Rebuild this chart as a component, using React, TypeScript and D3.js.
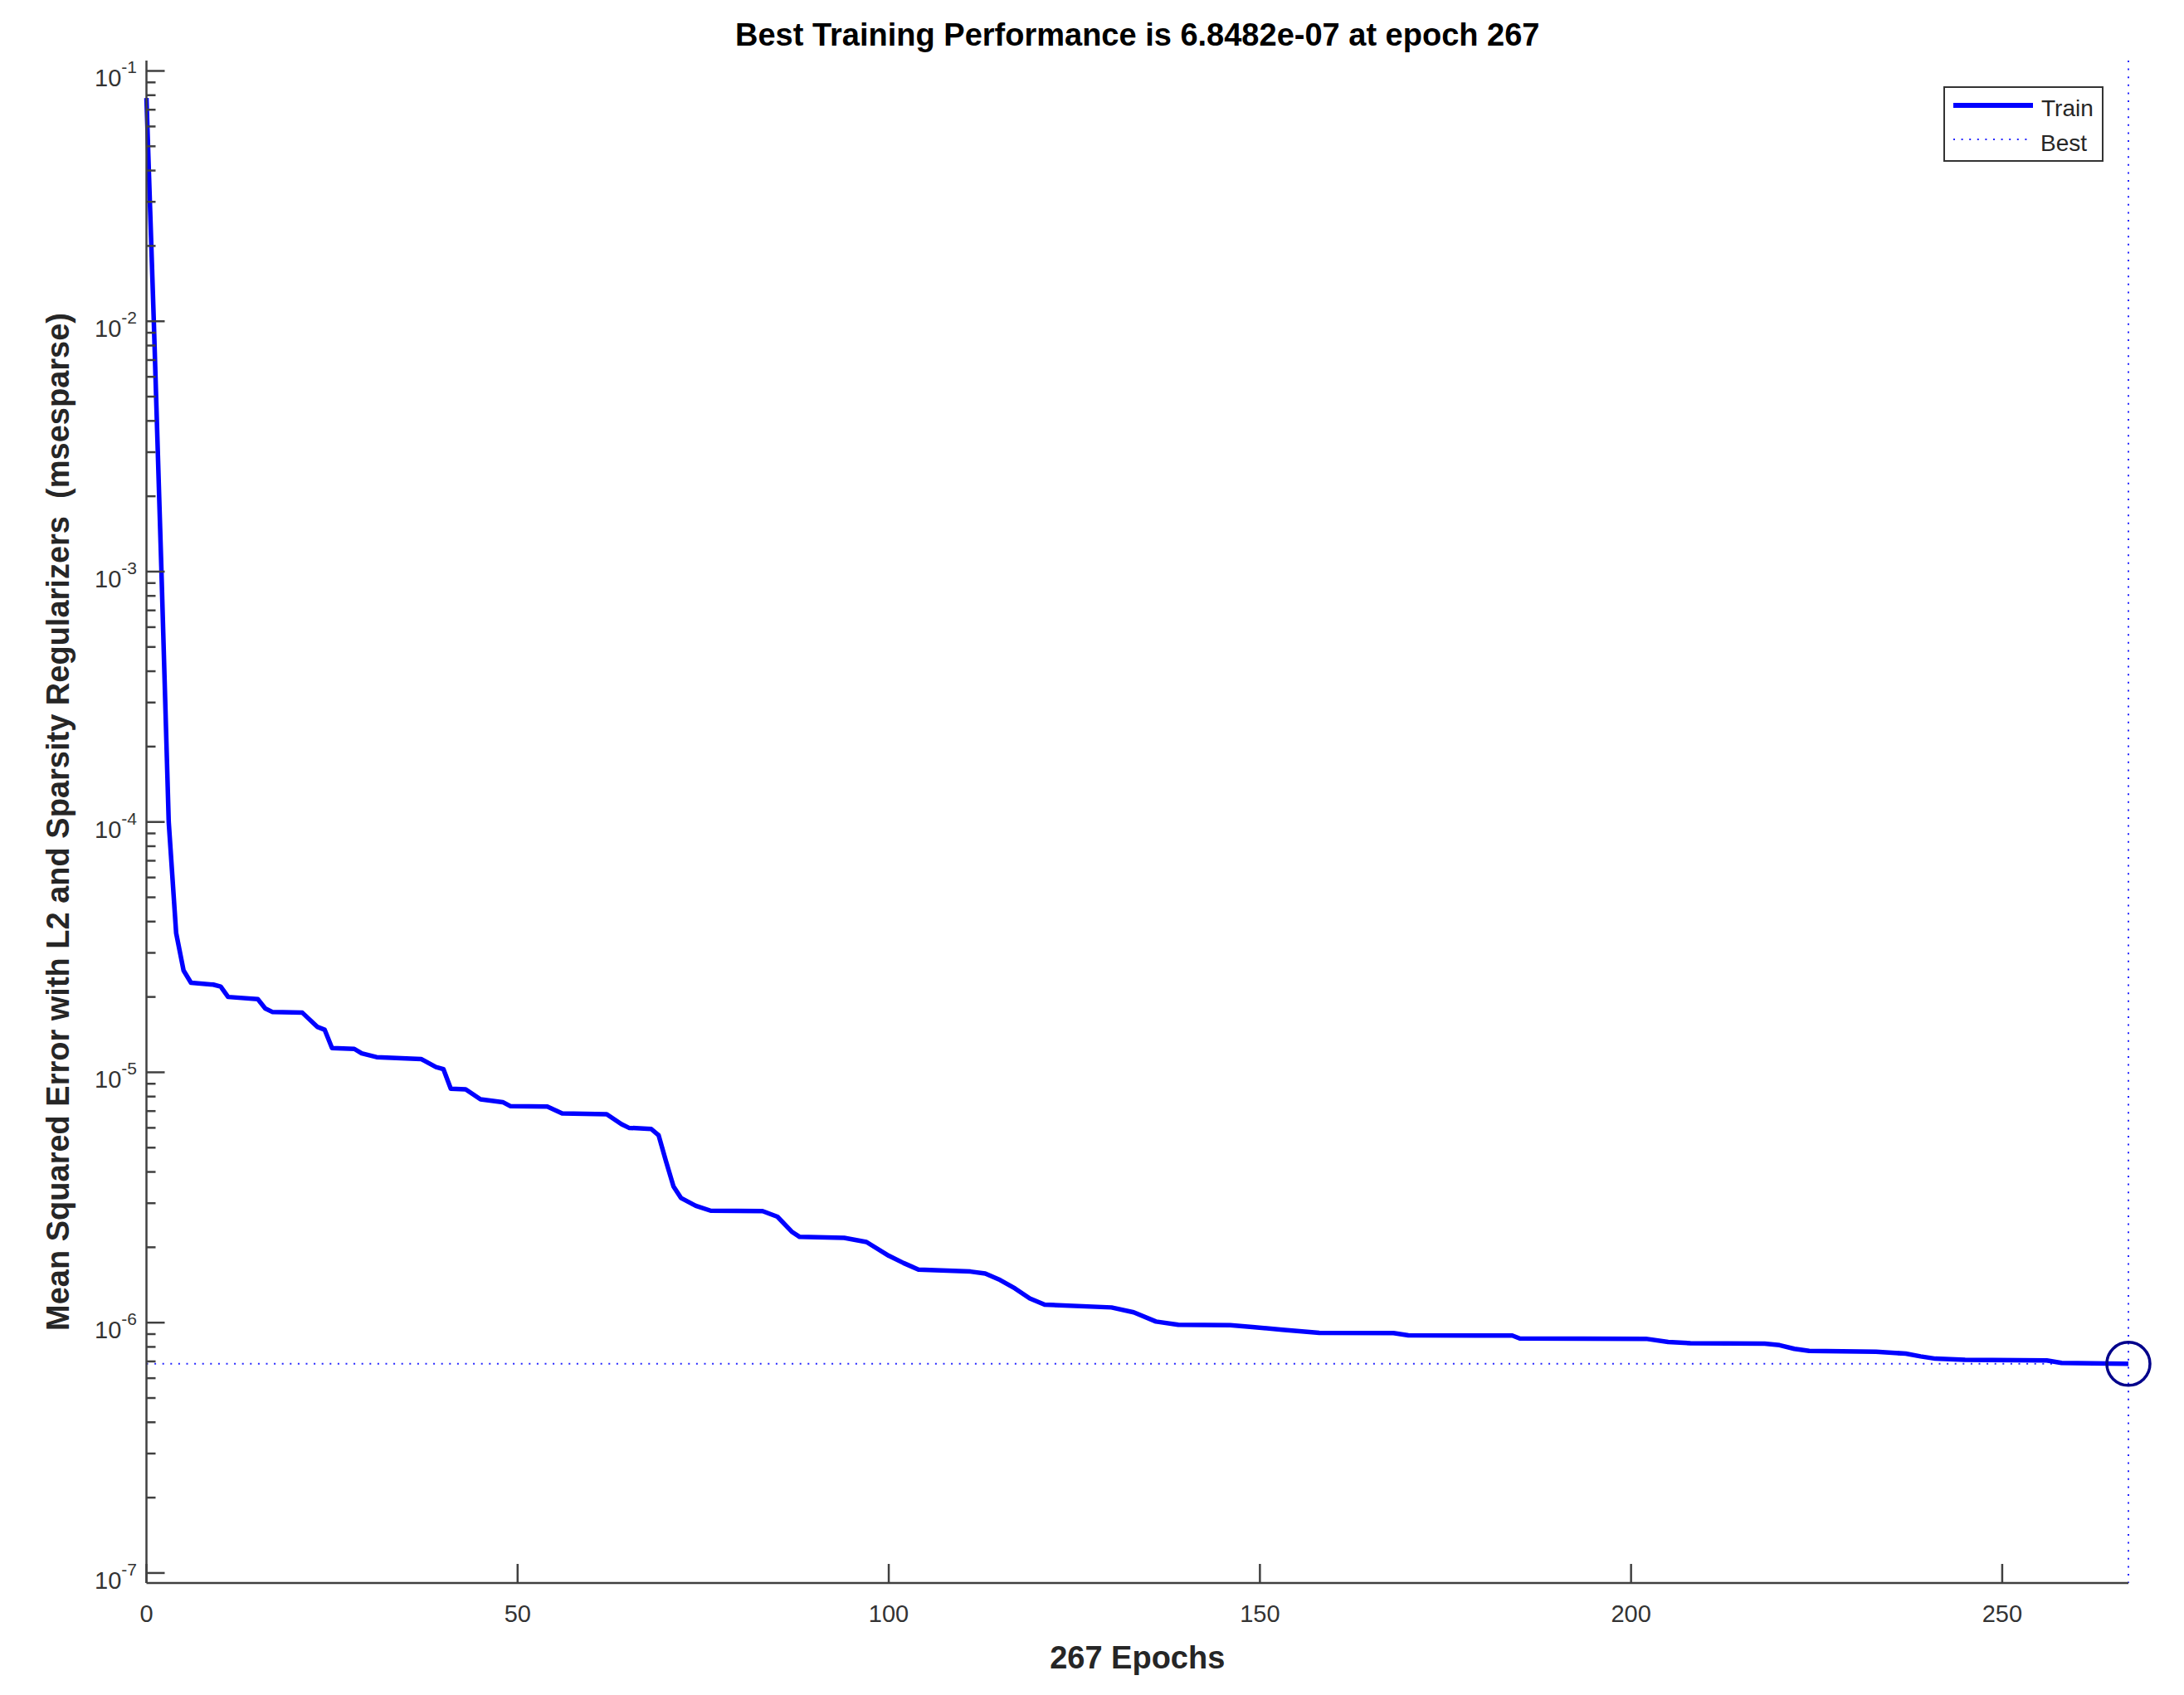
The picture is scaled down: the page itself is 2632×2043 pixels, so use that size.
import React from "react";
import * as d3 from "d3";

// ---- data ----
const epochs: number[] = [
  0, 1, 2, 3, 4, 5, 6, 9, 10, 11, 15, 16, 17, 21, 23, 24, 25, 28, 29, 31, 37, 39, 40, 41, 43, 45, 48, 49, 54, 56,
  62, 64, 65, 68, 69, 70, 71, 72, 74, 76, 83, 85, 87, 88, 94, 97, 100, 102, 104, 111, 113, 115, 117, 119, 121, 130,
  133, 136, 139, 146, 149, 153, 158, 168, 170, 184, 185, 202, 205, 208, 218, 220, 222, 224, 233, 237, 239, 241, 245,
  256, 258, 267,
];
const trainPerf: number[] = [
  0.078, 0.0098, 0.00105, 1.0e-4, 3.6e-5, 2.55e-5, 2.28e-5, 2.24e-5, 2.2e-5, 2.0e-5, 1.96e-5, 1.8e-5, 1.74e-5,
  1.73e-5, 1.52e-5, 1.48e-5, 1.25e-5, 1.24e-5, 1.19e-5, 1.15e-5, 1.13e-5, 1.05e-5, 1.03e-5, 8.6e-6, 8.55e-6, 7.8e-6,
  7.6e-6, 7.33e-6, 7.3e-6, 6.85e-6, 6.8e-6, 6.2e-6, 6.0e-6, 5.94e-6, 5.6e-6, 4.4e-6, 3.5e-6, 3.15e-6, 2.93e-6,
  2.8e-6, 2.79e-6, 2.65e-6, 2.3e-6, 2.2e-6, 2.18e-6, 2.1e-6, 1.85e-6, 1.73e-6, 1.63e-6, 1.6e-6, 1.57e-6, 1.48e-6,
  1.37e-6, 1.25e-6, 1.18e-6, 1.15e-6, 1.1e-6, 1.01e-6, 9.8e-7, 9.77e-7, 9.6e-7, 9.37e-7, 9.1e-7, 9.08e-7, 8.9e-7,
  8.88e-7, 8.65e-7, 8.62e-7, 8.37e-7, 8.28e-7, 8.24e-7, 8.13e-7, 7.86e-7, 7.71e-7, 7.65e-7, 7.52e-7, 7.33e-7,
  7.18e-7, 7.1e-7, 7.06e-7, 6.9e-7, 6.8482e-7,
];
const bestEpoch = 267;
const bestPerf = 6.8482e-7;
const xTicks: number[] = [0, 50, 100, 150, 200, 250];
const yDecades: number[] = [-7, -6, -5, -4, -3, -2, -1];
const titleText = "Best Training Performance is 6.8482e-07 at epoch 267";
const xLabel = "267 Epochs";
const yLabel = "Mean Squared Error with L2 and Sparsity Regularizers\u00a0\u00a0(msesparse)";
const legendItems: string[] = ["Train", "Best"];

// ---- layout ----
const W = 2632;
const H = 2043;
const L = 176.5;
const R = 2565;
const T = 73;
const B = 1908;
const FONT = "'Liberation Sans', Arial, Helvetica, sans-serif";
const BLUE = "#0000ff";

export default function App() {
  const x = d3.scaleLinear().domain([0, bestEpoch]).range([L, R]);
  const y = d3.scaleLog().domain([Math.pow(10, -7.04), Math.pow(10, -0.9586)]).range([B, T]);
  const pts = epochs.map((e, i) => [e, trainPerf[i]] as [number, number]);
  const line = d3
    .line<[number, number]>()
    .x((d) => x(d[0]))
    .y((d) => y(d[1]));

  const minor: number[] = [];
  yDecades.forEach((dd) => {
    for (let k = 2; k <= 9; k++) {
      const v = k * Math.pow(10, dd);
      const [lo, hi] = y.domain();
      if (v > lo && v < hi) minor.push(v);
    }
  });

  const by = y(bestPerf);
  const bx = x(bestEpoch);

  return (
    <div style={{ position: "absolute", left: 0, top: 0 }}>
      <svg width={W} height={H} xmlns="http://www.w3.org/2000/svg" style={{ display: "block", background: "#fff" }}>
        <rect x={0} y={0} width={W} height={H} fill="#fff" />
        {/* title */}
        <text x={(L + R) / 2} y={55} textAnchor="middle" fontFamily={FONT} fontWeight="bold" fontSize={38} fill="#000">
          {titleText}
        </text>

        {/* best lines */}
        <line x1={L} x2={R} y1={by} y2={by} stroke={BLUE} strokeWidth={2} strokeDasharray="2 7.6" opacity={0.85} />
        <line x1={bx} x2={bx} y1={T} y2={B} stroke={BLUE} strokeWidth={2} strokeDasharray="2 7.6" opacity={0.85} />

        {/* train line */}
        <path d={line(pts) || ""} fill="none" stroke={BLUE} strokeWidth={5.5} strokeLinejoin="round" />

        {/* best marker */}
        <circle cx={bx} cy={by} r={26} fill="none" stroke="#00008b" strokeWidth={3.5} />

        {/* axes */}
        <line x1={L} x2={L} y1={T} y2={B} stroke="#404040" strokeWidth={2.5} />
        <line x1={L} x2={R} y1={B} y2={B} stroke="#404040" strokeWidth={2.5} />

        {/* y ticks */}
        {yDecades.map((dd) => {
          const v = Math.pow(10, dd);
          const yy = y(v);
          return (
            <g key={"yd" + dd}>
              <line x1={L} x2={L + 22} y1={yy} y2={yy} stroke="#404040" strokeWidth={2.5} />
              <text x={165} y={yy + 19} textAnchor="end" fontFamily={FONT} fontSize={29} fill="#333">
                10
                <tspan fontSize={21} dy={-16}>
                  {String(dd)}
                </tspan>
              </text>
            </g>
          );
        })}
        {minor.map((v, i) => (
          <line key={"ym" + i} x1={L} x2={L + 11} y1={y(v)} y2={y(v)} stroke="#404040" strokeWidth={2.5} />
        ))}

        {/* x ticks */}
        {xTicks.map((t) => (
          <g key={"xt" + t}>
            <line x1={x(t)} x2={x(t)} y1={B} y2={B - 23} stroke="#404040" strokeWidth={2.5} />
            <text x={x(t)} y={1955} textAnchor="middle" fontFamily={FONT} fontSize={29} fill="#333">
              {t}
            </text>
          </g>
        ))}

        {/* axis labels */}
        <text x={(L + R) / 2} y={2011} textAnchor="middle" fontFamily={FONT} fontWeight="bold" fontSize={38} fill="#262626">
          {xLabel}
        </text>
        <text
          transform={`translate(83, ${(T + B) / 2}) rotate(-90)`}
          textAnchor="middle"
          fontFamily={FONT}
          fontWeight="bold"
          fontSize={38}
          fill="#262626"
        >
          {yLabel}
        </text>

        {/* legend */}
        <g>
          <rect x={2343} y={105} width={191} height={89} fill="#fff" stroke="#333" strokeWidth={2} />
          <line x1={2354} x2={2450} y1={127} y2={127} stroke={BLUE} strokeWidth={6} />
          <text x={2460} y={140} fontFamily={FONT} fontSize={28} fill="#262626">
            {legendItems[0]}
          </text>
          <line x1={2354} x2={2446} y1={168} y2={168} stroke={BLUE} strokeWidth={2} strokeDasharray="2 7.6" opacity={0.85} />
          <text x={2459} y={182} fontFamily={FONT} fontSize={28} fill="#262626">
            {legendItems[1]}
          </text>
        </g>
      </svg>
    </div>
  );
}
